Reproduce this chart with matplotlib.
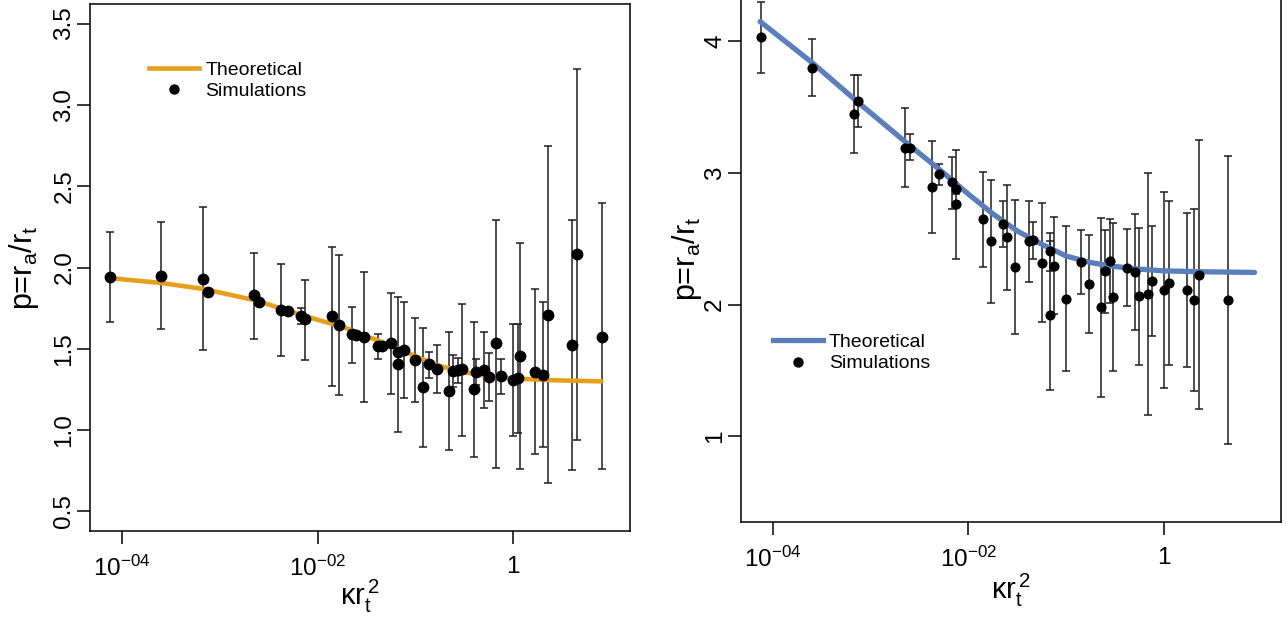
"""
plot.py
* draws p = r_a / r_t against kappa r_t^2 for two cases
* left panel: orange theory curve, right panel: blue theory curve
"""

import matplotlib
matplotlib.use("Agg")
import matplotlib.pyplot as plt
from matplotlib.lines import Line2D
from matplotlib.ticker import FixedLocator, FixedFormatter, NullLocator

plt.rcParams['font.family'] = ['Liberation Sans', 'DejaVu Sans']
plt.rcParams['mathtext.fontset'] = 'custom'
plt.rcParams['mathtext.rm'] = 'Liberation Sans'
plt.rcParams['mathtext.it'] = 'Liberation Sans'

# ---- left panel data ----
left_x = [7.5e-5, 2.5e-4, 6.7e-4, 7.5e-4, 2.23e-3, 2.5e-3, 4.2e-3, 5.0e-3, 6.8e-3, 7.5e-3,
          1.41e-2, 1.67e-2, 2.24e-2, 2.5e-2, 3.0e-2, 4.2e-2, 4.55e-2, 5.65e-2, 6.7e-2, 6.7e-2,
          7.6e-2, 0.10, 0.121, 0.138, 0.169, 0.224, 0.242, 0.272, 0.303, 0.40,
          0.42, 0.51, 0.566, 0.673, 0.757, 1.0, 1.13, 1.19, 1.68, 2.02,
          2.27, 4.05, 4.54, 8.1]
left_y = [1.94, 1.95, 1.93, 1.85, 1.83, 1.785, 1.74, 1.735, 1.70, 1.685,
          1.70, 1.645, 1.59, 1.585, 1.575, 1.515, 1.52, 1.535, 1.48, 1.405,
          1.495, 1.43, 1.265, 1.405, 1.375, 1.24, 1.365, 1.37, 1.375, 1.25,
          1.355, 1.37, 1.325, 1.535, 1.33, 1.31, 1.32, 1.455, 1.36, 1.34,
          1.71, 1.525, 2.08, 1.575]
left_lo = [1.665, 1.62, 1.495, 1.83, 1.56, 1.775, 1.455, 1.725, 1.65, 1.43,
           1.27, 1.215, 1.415, 1.575, 1.175, 1.44, 1.51, 1.22, 1.46, 0.99,
           1.20, 1.175, 0.895, 1.32, 1.23, 0.875, 1.265, 1.29, 0.965, 0.835,
           1.275, 1.135, 1.18, 0.77, 1.22, 0.965, 0.98, 0.76, 0.855, 0.895,
           0.675, 0.755, 0.94, 0.76]
left_hi = [2.22, 2.28, 2.37, 1.87, 2.09, 1.795, 2.02, 1.745, 1.75, 1.925,
           2.125, 2.075, 1.76, 1.595, 1.975, 1.59, 1.53, 1.845, 1.50, 1.82,
           1.79, 1.69, 1.63, 1.48, 1.525, 1.605, 1.46, 1.445, 1.775, 1.665,
           1.435, 1.605, 1.475, 2.295, 1.435, 1.655, 1.655, 2.15, 1.865, 1.785,
           2.75, 2.295, 3.22, 2.395]
left_theory_x = [7.4e-5, 2.5e-4, 6.8e-4, 2.4e-3, 7.1e-3, 1.82e-2, 3.16e-2, 5.6e-2,
                 0.1, 0.178, 0.316, 0.562, 1.0, 2.5, 8.1]
left_theory_y = [1.935, 1.905, 1.868, 1.796, 1.704, 1.635, 1.578, 1.522,
                 1.455, 1.395, 1.356, 1.332, 1.318, 1.307, 1.30]

# ---- right panel data ----
right_x = [7.5e-5, 2.5e-4, 6.7e-4, 7.5e-4, 2.26e-3, 2.52e-3, 4.2e-3, 5.03e-3, 6.8e-3, 7.5e-3,
           7.5e-3, 1.4e-2, 1.7e-2, 2.25e-2, 2.5e-2, 3.0e-2, 4.2e-2, 4.6e-2, 5.7e-2, 6.8e-2,
           6.8e-2, 7.55e-2, 0.101, 0.142, 0.171, 0.227, 0.25, 0.284, 0.305, 0.425,
           0.506, 0.562, 0.684, 0.76, 1.01, 1.135, 1.71, 2.02, 2.29, 4.57]
right_y = [4.03, 3.80, 3.45, 3.55, 3.19, 3.19, 2.895, 2.99, 2.93, 2.875,
           2.765, 2.65, 2.485, 2.61, 2.515, 2.285, 2.485, 2.49, 2.32, 2.41,
           1.92, 2.295, 2.045, 2.325, 2.16, 1.98, 2.255, 2.33, 2.055, 2.28,
           2.25, 2.065, 2.08, 2.18, 2.11, 2.165, 2.11, 2.035, 2.225, 2.035]
right_lo = [3.76, 3.585, 3.155, 3.35, 2.895, 3.095, 2.545, 2.91, 2.73, 2.84,
            2.35, 2.285, 2.015, 2.44, 2.115, 1.78, 2.175, 2.345, 1.87, 2.255,
            1.355, 1.93, 1.50, 2.08, 1.785, 1.30, 1.94, 2.01, 1.495, 1.99,
            1.81, 1.545, 1.16, 1.765, 1.37, 1.545, 1.525, 1.345, 1.205, 0.94]
right_hi = [4.30, 4.02, 3.745, 3.745, 3.49, 3.295, 3.245, 3.065, 3.12, 2.91,
            3.175, 3.01, 2.945, 2.785, 2.91, 2.795, 2.785, 2.625, 2.77, 2.545,
            2.485, 2.665, 2.595, 2.57, 2.53, 2.66, 2.57, 2.65, 2.62, 2.575,
            2.685, 2.585, 3.00, 2.595, 2.855, 2.79, 2.70, 2.725, 3.25, 3.13]
right_theory_x = [7.4e-5, 2.5e-4, 7.9e-4, 2.5e-3, 5.0e-3, 1.0e-2, 1.78e-2, 3.16e-2,
                  5.6e-2, 0.1, 0.178, 0.316, 0.562, 1.0, 2.5, 8.5]
right_theory_y = [4.15, 3.84, 3.52, 3.21, 3.03, 2.84, 2.69, 2.56,
                  2.46, 2.37, 2.32, 2.29, 2.27, 2.257, 2.25, 2.245]

x_ticks = [1e-4, 1e-2, 1]
x_tick_labels = [r'$\mathregular{10^{-04}}$', r'$\mathregular{10^{-02}}$', '1']

ORANGE = '#e69f1c'
BLUE = '#5b7fba'
BAR = '#1e1e1e'


def plot_panel(ax, x, y, lo, hi, tx, ty, colour, lw, msize, yticks, yticklabels,
               ylim, legend_anchor, ylabel_x, xlabel_y):
    """Draw one panel: error bars, theory curve and simulation points"""
    err = [[yi - l for yi, l in zip(y, lo)], [h - yi for yi, h in zip(y, hi)]]
    ax.errorbar(x, y, yerr=err, fmt='none', ecolor=BAR, elinewidth=1.1,
                capsize=3.2, capthick=1.1, zorder=2)
    ax.plot(tx, ty, color=colour, lw=lw, solid_capstyle='round', zorder=3)
    ax.plot(x, y, 'o', color='black', ms=msize, mew=0, zorder=4)

    ax.set_xscale('log')
    ax.set_xlim(10 ** -4.33, 10 ** 1.20)
    ax.set_ylim(*ylim)
    ax.xaxis.set_major_locator(FixedLocator(x_ticks))
    ax.xaxis.set_major_formatter(FixedFormatter(x_tick_labels))
    ax.xaxis.set_minor_locator(NullLocator())
    ax.set_yticks(yticks)
    ax.set_yticklabels(yticklabels, rotation=90, va='center')

    ax.tick_params(direction='out', length=9.5, width=1.1, labelsize=17.5, color='black')
    ax.tick_params(axis='x', pad=8.5)
    ax.tick_params(axis='y', pad=1)
    for spine in ax.spines.values():
        spine.set_linewidth(1.1)

    ax.set_xlabel(r'$\mathregular{\kappa r_t^{\,2}}$', fontsize=21)
    ax.set_ylabel(r'p=$\mathregular{r_a/r_t}$', fontsize=22)
    ax.xaxis.set_label_coords(0.5, xlabel_y)
    ax.yaxis.set_label_coords(ylabel_x, 0.5)

    # Legend with theory line and simulation dot
    handles = [Line2D([], [], color=colour, lw=lw),
               Line2D([], [], ls='none', marker='o', color='black', ms=7.5, mew=0)]
    ax.legend(handles, ['Theoretical', 'Simulations'], loc='upper left',
              bbox_to_anchor=legend_anchor, frameon=False, fontsize=14,
              handlelength=2.6, handletextpad=0.3, labelspacing=0.2,
              borderpad=0, borderaxespad=0)


fig = plt.figure(figsize=(12.86, 6.18), dpi=100)
ax_left = fig.add_axes([90 / 1286, 1 - 531 / 618, 540 / 1286, 527 / 618])
ax_right = fig.add_axes([740.7 / 1286, 1 - 521.7 / 618, 540.3 / 1286, 526.2 / 618])

plot_panel(ax_left, left_x, left_y, left_lo, left_hi, left_theory_x, left_theory_y,
           ORANGE, 3.3, 8.5, [0.5, 1.0, 1.5, 2.0, 2.5, 3.0, 3.5],
           ['0.5', '1.0', '1.5', '2.0', '2.5', '3.0', '3.5'],
           (0.38, 3.62), (0.109, 0.8915), -0.091, -0.089)

plot_panel(ax_right, right_x, right_y, right_lo, right_hi, right_theory_x, right_theory_y,
           BLUE, 3.8, 7.3, [1, 2, 3, 4], ['1', '2', '3', '4'],
           (0.352, 4.348), (0.059, 0.358), -0.068, -0.0956)

fig.savefig('out.png', dpi=100)
